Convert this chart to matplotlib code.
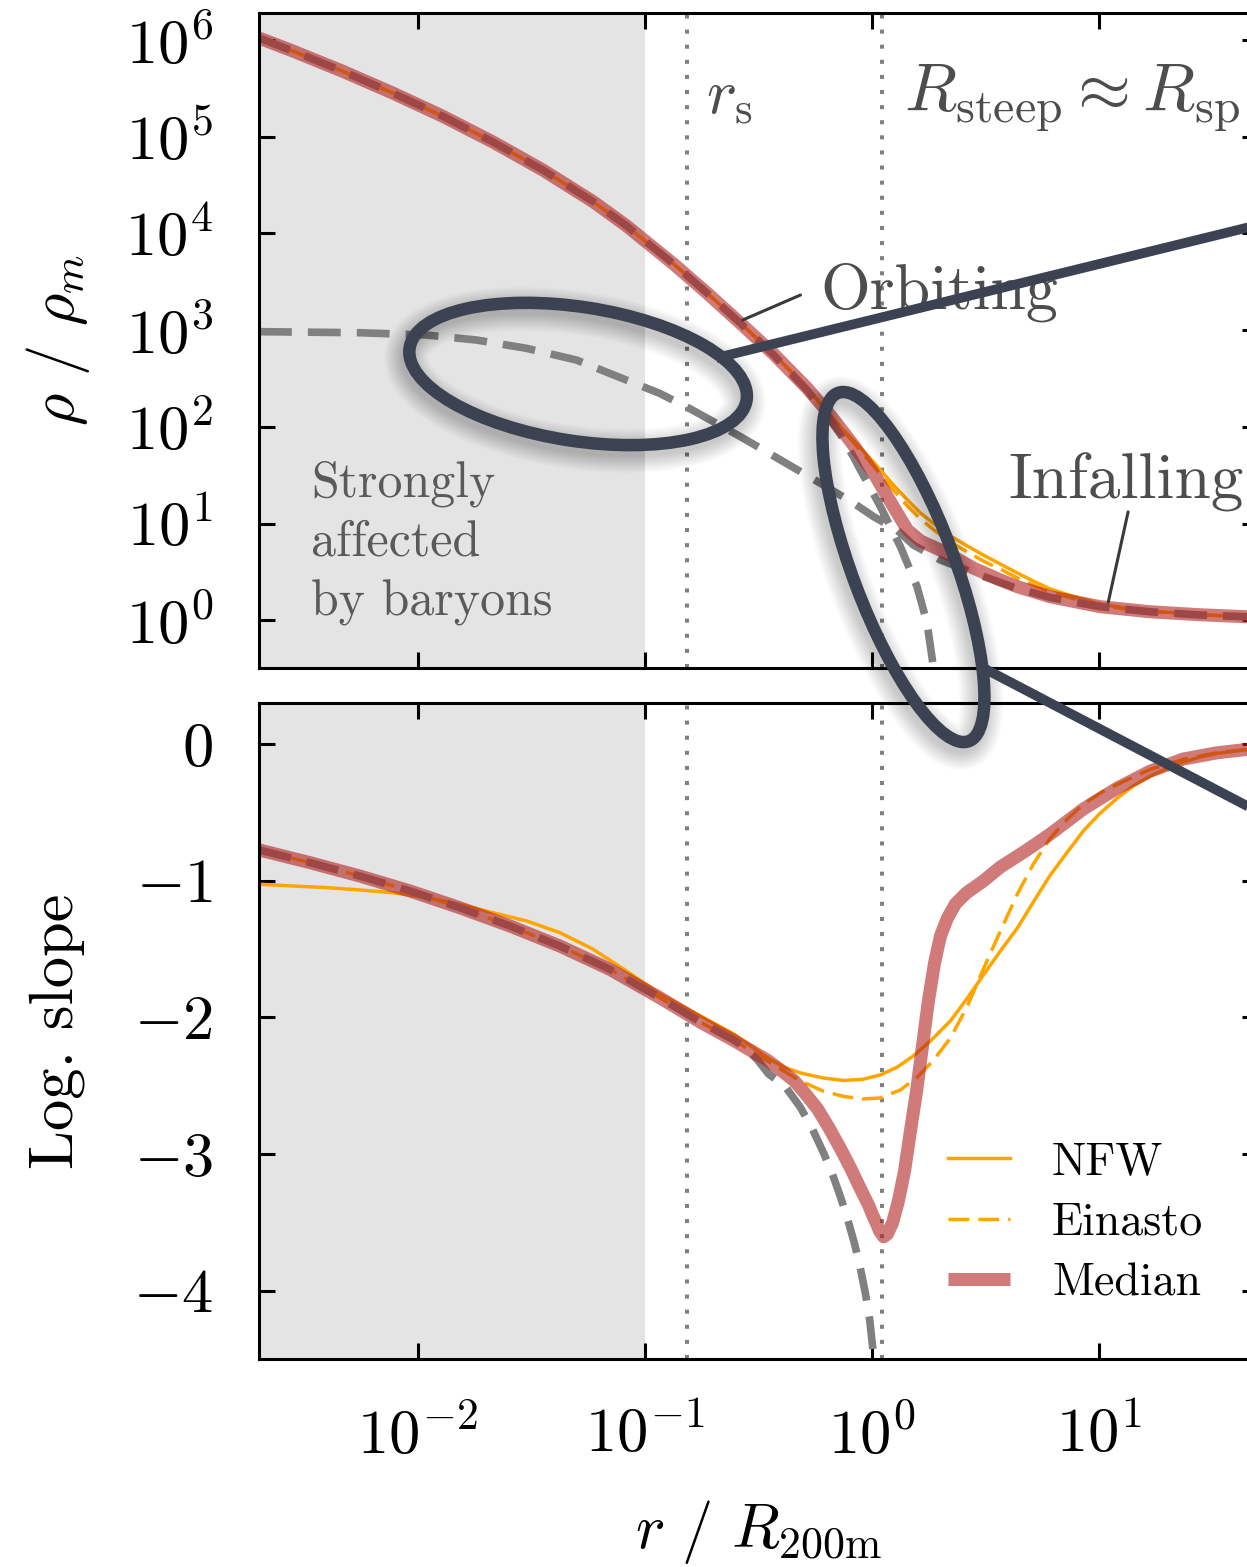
import numpy as np
import matplotlib
matplotlib.use("Agg")
import matplotlib.pyplot as plt
from matplotlib.patches import Ellipse
from matplotlib.lines import Line2D
from matplotlib.transforms import IdentityTransform

plt.rcParams.update({
    "font.family": "serif",
    "font.serif": ["cmr10"],
    "mathtext.fontset": "cm",
    "axes.formatter.use_mathtext": True,
})

# ---------------- density profiles (log10 r/R200m, log10 rho/rho_m) ----------------
lr_median = [-2.699, -2.549, -2.329, -2.109, -1.889, -1.669, -1.449, -1.229, -1.082, -1.019,
             -0.872, -0.725, -0.579, -0.432, -0.286, -0.198, -0.139, -0.082, 0.006, 0.094,
             0.156, 0.213, 0.301, 0.376, 0.446, 0.565, 0.640, 0.785, 1.005, 1.225,
             1.445, 1.652, 1.699]
lrho_median = [6.02, 5.885, 5.675, 5.45, 5.21, 4.945, 4.655, 4.33, 4.08, 3.96,
               3.68, 3.38, 3.07, 2.75, 2.40, 2.16, 1.985, 1.81, 1.525, 1.174,
               0.933, 0.820, 0.726, 0.633, 0.540, 0.416, 0.347, 0.243, 0.140, 0.088,
               0.057, 0.036, 0.033]

lr_fit = [-2.699, -2.549, -2.329, -2.109, -1.889, -1.669, -1.449, -1.229, -1.082, -1.019,
          -0.872, -0.725, -0.579, -0.432, -0.286, -0.198, -0.139, -0.082, 0.006, 0.094,
          0.156, 0.213, 0.279, 0.345, 0.420, 0.490, 0.565, 0.640, 0.710, 0.785,
          0.895, 1.005, 1.115, 1.225, 1.445, 1.652, 1.699]
lrho_nfw = [6.02, 5.885, 5.675, 5.45, 5.21, 4.945, 4.655, 4.33, 4.08, 3.96,
            3.68, 3.38, 3.07, 2.75, 2.40, 2.16, 2.00, 1.86, 1.636, 1.398,
            1.243, 1.109, 0.985, 0.871, 0.767, 0.674, 0.581, 0.488, 0.405, 0.323,
            0.240, 0.167, 0.126, 0.095, 0.058, 0.037, 0.034]
lrho_einasto = [6.02, 5.885, 5.675, 5.45, 5.21, 4.945, 4.655, 4.33, 4.08, 3.96,
                3.68, 3.38, 3.07, 2.75, 2.40, 2.16, 1.99, 1.84, 1.595, 1.346,
                1.181, 1.047, 0.922, 0.809, 0.705, 0.612, 0.529, 0.436, 0.364, 0.292,
                0.219, 0.157, 0.116, 0.090, 0.055, 0.036, 0.033]

lr_orb = [-2.699, -2.549, -2.329, -2.109, -1.889, -1.669, -1.449, -1.229, -1.082, -1.019,
          -0.872, -0.725, -0.579, -0.432, -0.286, -0.198, -0.139, -0.082, -0.051, 0.037,
          0.125, 0.198, 0.242, 0.270, 0.300]
lrho_orb = [6.02, 5.885, 5.675, 5.45, 5.21, 4.945, 4.655, 4.33, 4.08, 3.96,
            3.68, 3.38, 3.07, 2.74, 2.38, 2.12, 1.92, 1.69, 1.553, 1.174,
            0.760, 0.347, -0.029, -0.484, -1.3]

lr_inf = [-2.699, -2.255, -1.962, -1.742, -1.522, -1.302, -1.082, -0.935, -0.799, -0.579,
          -0.403, -0.227, -0.080, 0.008, 0.110, 0.182, 0.301, 0.447, 0.565, 0.638,
          0.785, 1.005, 1.225, 1.445, 1.652, 1.699]
lrho_inf = [2.984, 2.973, 2.949, 2.898, 2.812, 2.691, 2.484, 2.346, 2.184, 1.898,
            1.657, 1.416, 1.209, 1.070, 0.933, 0.778, 0.623, 0.49, 0.39, 0.33,
            0.235, 0.140, 0.088, 0.054, 0.036, 0.033]

# ---------------- logarithmic slopes ----------------
lr_slope_med = [-2.699, -2.475, -2.255, -2.035, -1.815, -1.595, -1.375, -1.155, -0.935, -0.755,
                -0.610, -0.460, -0.403, -0.344, -0.293, -0.241, -0.192, -0.139, -0.095, -0.051,
                -0.016, 0.002, 0.022, 0.033, 0.051, 0.068, 0.090, 0.116, 0.143, 0.169,
                0.196, 0.222, 0.248, 0.275, 0.301, 0.332, 0.367, 0.415, 0.490, 0.565,
                0.675, 0.785, 0.930, 1.080, 1.225, 1.370, 1.520, 1.652, 1.699]
slope_median = [-0.775, -0.868, -0.966, -1.075, -1.198, -1.331, -1.478, -1.648, -1.856, -2.036,
                -2.168, -2.315, -2.385, -2.462, -2.560, -2.668, -2.802, -2.961, -3.102, -3.255,
                -3.372, -3.445, -3.519, -3.563, -3.606, -3.584, -3.504, -3.343, -3.124, -2.831,
                -2.538, -2.209, -1.880, -1.602, -1.405, -1.273, -1.170, -1.090, -1.002, -0.900,
                -0.783, -0.658, -0.476, -0.322, -0.198, -0.110, -0.064, -0.039, -0.033]

lr_slope_nfw = [-2.699, -2.550, -2.401, -2.255, -2.110, -1.960, -1.815, -1.670, -1.520, -1.375,
                -1.230, -1.081, -0.935, -0.755, -0.610, -0.460, -0.390, -0.315, -0.218, -0.125,
                -0.042, 0.037, 0.112, 0.182, 0.257, 0.345, 0.420, 0.490, 0.565, 0.640,
                0.710, 0.785, 0.860, 0.930, 1.005, 1.080, 1.150, 1.225, 1.300, 1.370,
                1.445, 1.520, 1.652, 1.699]
slope_nfw = [-1.026, -1.039, -1.051, -1.068, -1.088, -1.124, -1.173, -1.234, -1.295, -1.380,
             -1.500, -1.661, -1.829, -1.990, -2.121, -2.297, -2.363, -2.407, -2.443, -2.462,
             -2.454, -2.421, -2.363, -2.282, -2.173, -2.026, -1.858, -1.690, -1.514, -1.346,
             -1.156, -0.958, -0.790, -0.636, -0.505, -0.395, -0.307, -0.234, -0.179, -0.132,
             -0.095, -0.069, -0.040, -0.034]

lr_slope_ein = [-2.699, -2.475, -2.255, -2.035, -1.815, -1.595, -1.375, -1.155, -0.935, -0.755,
                -0.610, -0.460, -0.390, -0.315, -0.218, -0.125, -0.042, 0.037, 0.125, 0.200,
                0.270, 0.345, 0.420, 0.490, 0.565, 0.640, 0.710, 0.785, 0.860, 0.930,
                1.005, 1.080, 1.225, 1.370, 1.520, 1.652, 1.699]
slope_einasto = [-0.775, -0.868, -0.966, -1.075, -1.198, -1.331, -1.478, -1.648, -1.856, -2.036,
                 -2.165, -2.319, -2.392, -2.465, -2.538, -2.579, -2.597, -2.590, -2.531, -2.436,
                 -2.315, -2.151, -1.917, -1.646, -1.368, -1.097, -0.878, -0.688, -0.549, -0.441,
                 -0.358, -0.295, -0.185, -0.113, -0.064, -0.039, -0.033]

lr_slope_orb = [-2.699, -2.475, -2.255, -2.035, -1.815, -1.595, -1.375, -1.155, -0.935, -0.755,
                -0.610, -0.557, -0.504, -0.456, -0.385, -0.315, -0.262, -0.214, -0.174, -0.139,
                -0.108, -0.077, -0.051, -0.029, -0.011, 0.002, 0.015]
slope_orb = [-0.775, -0.868, -0.966, -1.075, -1.198, -1.331, -1.478, -1.648, -1.856, -2.036,
             -2.165, -2.224, -2.312, -2.414, -2.500, -2.660, -2.820, -2.990, -3.150, -3.314,
             -3.475, -3.658, -3.841, -4.023, -4.206, -4.404, -4.623]

# characteristic radii and shaded region edge (r / R200m)
R_S = 0.1526
R_STEEP = 1.11
BARYON_EDGE = 0.1
X_RANGE = (2e-3, 50)

# ---------------- styling ----------------
ORANGE = "orange"
BAND = "firebrick"
SLATE = "#3b4352"
TXT = "#4d4d4d"

W, H, DPI = 1247, 1567, 100
fig = plt.figure(figsize=(W / DPI, H / DPI), dpi=DPI)
ax1 = fig.add_axes([259 / W, 1 - 668 / H, 999 / W, 655 / H])
ax2 = fig.add_axes([259 / W, 1 - 1359 / H, 999 / W, 656 / H])

def p(v):
    return 10 ** np.asarray(v)

band_kw = dict(color=BAND, alpha=0.6, lw=9.4, solid_capstyle="butt", zorder=4)
gray_kw = dict(color="gray", lw=5.5, dashes=(4.3, 2.1), zorder=3)
nfw_kw = dict(color=ORANGE, lw=2.5, zorder=2)
ein_kw = dict(color=ORANGE, lw=2.5, dashes=(6.0, 2.6), zorder=2)

for ax in (ax1, ax2):
    ax.set_xscale("log")
    ax.set_xlim(*X_RANGE)
    ax.axvspan(X_RANGE[0], BARYON_EDGE, color="#e4e4e4", lw=0, zorder=0)
    for xv in (R_S, R_STEEP):
        ax.axvline(xv, color="#808080", lw=2.9, ls=(0, (1, 2.75)), zorder=1)
    for s in ax.spines.values():
        s.set_linewidth(2.2)
        s.set_zorder(6)

# top: density
ax1.plot(p(lr_fit), p(lrho_nfw), **nfw_kw)
ax1.plot(p(lr_fit), p(lrho_einasto), **ein_kw)
ax1.plot(p(lr_orb), p(lrho_orb), **gray_kw)
ax1.plot(p(lr_inf), p(lrho_inf), **gray_kw)
ax1.plot(p(lr_median), p(lrho_median), **band_kw)
ax1.set_yscale("log")
ax1.set_ylim(0.321, 1.9e6)
ax1.set_yticks([1e0, 1e1, 1e2, 1e3, 1e4, 1e5, 1e6])

# bottom: slope
l_nfw, = ax2.plot(p(lr_slope_nfw), slope_nfw, label="NFW", **nfw_kw)
l_ein, = ax2.plot(p(lr_slope_ein), slope_einasto, label="Einasto", **ein_kw)
ax2.plot(p(lr_slope_orb), slope_orb, **gray_kw)
l_med, = ax2.plot(p(lr_slope_med), slope_median, label="Median", **band_kw)
ax2.set_ylim(-4.5, 0.3)
ax2.set_yticks([0, -1, -2, -3, -4])

for ax in (ax1, ax2):
    ax.set_xticks([1e-2, 1e-1, 1e0, 1e1])
    ax.minorticks_off()
    ax.tick_params(which="both", direction="in", top=True, right=True,
                   length=11.5, width=2.2, labelsize=45)
    ax.tick_params(axis="y", pad=33)
    ax.tick_params(axis="x", pad=34)
ax1.tick_params(labelbottom=False)

ax1.set_ylabel(r"$\rho\ /\ \rho_m$", fontsize=45, va="center")
ax1.yaxis.set_label_coords(-0.2017, 0.5)
ax2.set_ylabel("Log. slope", fontsize=45, va="center")
ax2.yaxis.set_label_coords(-0.2017, 0.5)
ax2.set_xlabel(r"$r\ /\ R_{\rm 200m}$", fontsize=45, va="center")
ax2.xaxis.set_label_coords(0.5, -0.264)

# annotations in the density panel
ax1.text(0.00338, 45.4, "Strongly\naffected\nby baryons", fontsize=36, color="#5a5a5a",
         ha="left", va="top", linespacing=1.38, zorder=5)
ax1.text(0.185, 2.5e5, r"$r_{\rm s}$", fontsize=46, color=TXT, ha="left", va="center", zorder=5)
ax1.text(1.38, 2.5e5, r"$R_{\rm steep} \approx R_{\rm sp}$", fontsize=49, color=TXT,
         ha="left", va="center", zorder=5)
ax1.text(0.593, 2480, "Orbiting", fontsize=46, color=TXT, ha="left", va="center", zorder=5)
ax1.annotate("", xy=(0.269, 1270), xytext=(0.484, 2306),
             arrowprops=dict(arrowstyle="-", color="#3a3a3a", lw=2.2, shrinkA=0, shrinkB=0),
             zorder=5)
ax1.text(3.98, 26.9, "Infalling", fontsize=47, color=TXT, ha="left", va="center", zorder=5)
ax1.annotate("", xy=(10.96, 1.54), xytext=(13.4, 13.2),
             arrowprops=dict(arrowstyle="-", color="#3a3a3a", lw=2.2, shrinkA=0, shrinkB=0),
             zorder=5)

ax2.legend(handles=[l_nfw, l_ein, l_med], loc="center left", bbox_to_anchor=(0.6897, 0.2073),
           frameon=False, fontsize=33, handlelength=1.35, handletextpad=0.92,
           labelspacing=0.41, borderpad=0, borderaxespad=0)

# callout ellipses with soft shadows, linking to the panel on the right
def callout(ax, center, width, height, angle, line_start, line_end):
    cx, cy = ax.transData.transform(center)
    for k in range(18):
        fig.add_artist(Ellipse((cx - 3, cy - 6), width, height, angle=angle, fill=False,
                               lw=8.0 + 1.4 * k, ec="black", alpha=0.011,
                               transform=IdentityTransform(), zorder=8))
    fig.add_artist(Ellipse((cx, cy), width, height, angle=angle, fill=False, lw=9.0,
                           ec=SLATE, transform=IdentityTransform(), zorder=9))
    fig.add_artist(Line2D([cx + line_start[0], cx + line_end[0]],
                          [cy + line_start[1], cy + line_end[1]],
                          lw=7.0, color=SLATE, solid_capstyle="butt",
                          transform=IdentityTransform(), zorder=9))

callout(ax1, (0.0508, 352), 341, 134, -8.8, (138, 16), (900, 203))
callout(ax1, (1.374, 3.55), 372, 102, -69.4, (80, -101), (600, -373))

fig.savefig("out.png", dpi=DPI)
